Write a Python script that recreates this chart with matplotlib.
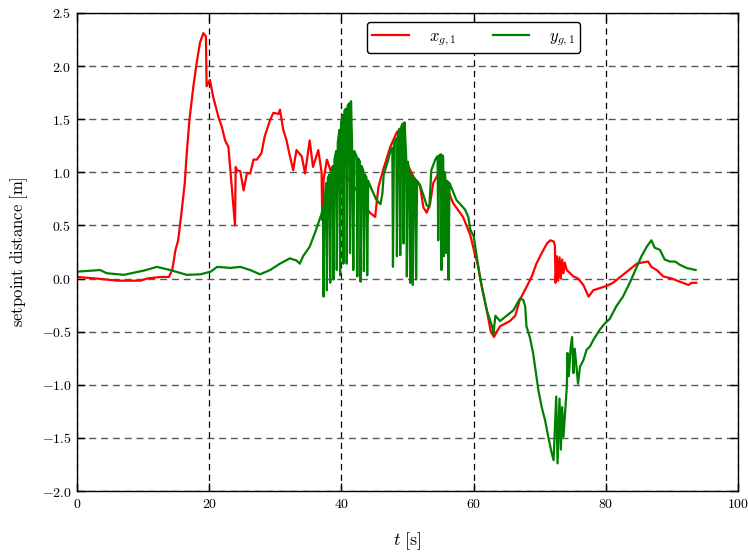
import matplotlib
matplotlib.use('Agg')
import matplotlib.pyplot as plt
from matplotlib.ticker import FuncFormatter, MultipleLocator

plt.rcParams['mathtext.fontset'] = 'cm'

# x_{g,1}
red_t = [0, 3.0, 6.1, 9.6, 10.6, 12.6, 13.9, 14.4, 14.9, 15.3, 15.8, 16.3,
         16.6, 17.0, 17.6, 18.1, 18.6, 19.1, 19.5, 19.6, 20.1, 20.6, 21.4,
         21.9, 22.4, 22.9, 23.9, 24.0, 24.2, 24.7, 25.2, 25.7, 26.2, 26.7,
         27.2, 27.9, 28.4, 29.2, 29.7, 30.5, 30.7, 31.2, 31.7, 32.0, 32.7,
         33.2, 34.0, 34.5, 35.2, 35.7, 36.5, 37.0, 37.1, 37.3, 37.8, 38.5,
         40.8, 42.3, 43.8, 44.3, 45.1, 45.6, 46.3, 47.4, 48.4, 48.9, 49.4,
         50.9, 51.9, 52.4, 52.9, 53.4, 53.9, 54.7, 55.9, 56.9, 58.4, 59.5,
         60.0, 60.7, 61.3, 62.0, 62.6, 63.1, 63.5, 64.0, 65.5, 66.3, 67.0,
         68.0, 68.8, 69.5, 70.3, 71.1, 71.6, 72.1, 72.3, 72.4, 72.6, 72.8,
         73.0, 73.2, 73.4, 73.6, 73.8, 74.1, 75.1, 75.8, 76.6, 77.4, 78.1,
         79.1, 80.1, 81.1, 81.9, 82.9, 83.9, 84.7, 85.4, 86.4, 86.9, 87.7,
         88.7, 90.0, 91.2, 92.5, 93.0, 93.7]
red_v = [0.015, 0.0, -0.02, -0.02, 0.0, 0.015, 0.015, 0.08, 0.27, 0.36, 0.62,
         0.9, 1.18, 1.49, 1.81, 2.03, 2.22, 2.31, 2.28, 1.81, 1.87, 1.71,
         1.52, 1.43, 1.3, 1.24, 0.5, 1.05, 1.02, 1.01, 0.83, 0.99, 0.99,
         1.12, 1.12, 1.18, 1.34, 1.49, 1.56, 1.55, 1.59, 1.4, 1.3, 1.21,
         1.02, 1.21, 1.15, 0.99, 1.3, 1.05, 1.21, 1.0, 0.55, 0.93, 1.12,
         0.99, 0.96, 0.83, 0.67, 0.62, 0.58, 0.86, 1.02, 1.24, 1.38, 1.4,
         1.15, 0.96, 0.87, 0.67, 0.62, 0.7, 0.9, 0.99, 0.87, 0.71, 0.58,
         0.41, 0.28, 0.11, -0.1, -0.3, -0.5, -0.55, -0.5, -0.45, -0.4,
         -0.35, -0.2, -0.08, 0.02, 0.14, 0.24, 0.33, 0.36, 0.35, 0.31,
         -0.04, 0.21, -0.02, 0.2, 0.0, 0.18, 0.05, 0.15, 0.08, 0.02, 0.0,
         -0.06, -0.17, -0.11, -0.09, -0.07, -0.04, 0.0, 0.05, 0.1, 0.14,
         0.15, 0.16, 0.11, 0.08, 0.02, 0.0, -0.03, -0.06, -0.04, -0.04]

# y_{g,1}
green_t = [0, 3.5, 4.5, 7.1, 10.1, 12.1, 14.1, 16.6, 18.7, 20.2, 21.2, 23.2,
           24.7, 26.2, 27.7, 29.2, 30.7, 32.2, 33.2, 33.7, 34.2, 35.2, 36.0,
           36.5, 37.0,
           37.2, 37.3, 37.45, 37.7, 37.8, 37.95, 38.2, 38.3, 38.45,
           38.7, 38.8, 38.95, 39.2, 39.3, 39.45, 39.7, 39.8, 39.95,
           40.2, 40.3, 40.45, 40.7, 40.8, 40.95, 41.2, 41.3, 41.45,
           41.6, 41.8, 41.95, 42.3, 42.4, 42.55, 42.8, 42.9, 43.05,
           43.3, 43.4, 43.55, 43.8, 43.9, 44.05,
           44.5, 45.3, 45.9, 46.2, 46.4, 47.0, 47.5,
           47.7, 47.8, 47.95, 48.3, 48.4, 48.55, 48.8, 48.9, 49.05,
           49.3, 49.4, 49.55, 49.8, 49.9, 50.05, 50.3, 50.4, 50.55,
           50.7, 50.8, 50.95, 51.2, 51.3, 51.45,
           51.9, 52.9, 53.3, 53.6, 54.2, 54.5,
           54.55, 54.65, 54.8, 55.05, 55.15, 55.3, 55.4, 55.5, 55.65,
           55.75, 55.85, 56.0, 56.1, 56.2, 56.35,
           57.4, 58.7, 59.2, 59.5, 60.0, 60.5, 61.0, 62.0, 62.8, 63.0,
           63.3, 64.0, 65.0, 66.0, 67.0, 67.5, 67.8, 68.0, 68.5, 69.0,
           69.5, 69.8, 70.3, 70.8, 71.3, 71.8, 72.1,
           72.5, 72.7, 73.0, 73.2, 73.4, 73.6, 73.8, 74.1, 74.2, 74.4,
           74.7, 74.9, 75.1, 75.3, 75.6, 75.8, 76.1, 76.6, 77.1, 77.6,
           78.1, 79.1, 79.9, 80.6, 81.6, 82.6, 83.7, 84.7, 85.4, 86.2,
           86.9, 87.4, 88.2, 88.9, 89.7, 90.5, 91.2, 92.2, 93.6]
green_v = [0.065, 0.08, 0.05, 0.035, 0.075, 0.11, 0.08, 0.035, 0.04, 0.065,
           0.11, 0.1, 0.11, 0.08, 0.04, 0.08, 0.14, 0.19, 0.17, 0.14, 0.21,
           0.3, 0.43, 0.52, 0.61,
           0.68, -0.17, 0.75, 0.9, -0.11, 0.95, 0.98, -0.04, 1.0,
           1.06, -0.01, 1.12, 1.2, 0.08, 1.28, 1.4, 0.03, 1.47,
           1.54, 0.14, 1.58, 1.6, 0.14, 1.63, 1.65, 0.24, 1.67,
           1.3, 0.08, 1.2, 1.15, 0.02, 1.13, 1.1, -0.03, 1.06,
           1.02, 0.07, 0.98, 0.95, 0.03, 0.92,
           0.85, 0.74, 0.7, 0.8, 0.98, 1.1, 1.22,
           1.23, 0.11, 1.27, 1.32, 0.21, 1.36, 1.41, 0.22, 1.43,
           1.46, 0.33, 1.47, 1.15, 0.02, 1.1, 1.0, -0.04, 0.98,
           0.96, -0.06, 0.95, 0.93, -0.01, 0.92,
           0.88, 0.69, 0.67, 1.02, 1.12, 1.15,
           1.15, 0.36, 1.16, 1.17, 0.08, 1.16, 1.14, 0.21, 1.0,
           0.93, 0.24, 0.92, 0.91, -0.01, 0.9,
           0.74, 0.65, 0.58, 0.46, 0.4, 0.2, 0.0, -0.3, -0.45, -0.52,
           -0.35, -0.4, -0.35, -0.3, -0.19, -0.2, -0.26, -0.45, -0.55, -0.7,
           -0.92, -1.05, -1.21, -1.33, -1.49, -1.64, -1.71,
           -1.11, -1.74, -1.13, -1.61, -1.21, -1.49, -1.3, -1.02, -0.7, -0.92,
           -0.64, -0.55, -0.89, -0.66, -0.86, -0.99, -0.83, -0.77, -0.67,
           -0.64, -0.58, -0.48, -0.42, -0.38, -0.26, -0.17, -0.03, 0.11,
           0.21, 0.3, 0.36, 0.29, 0.27, 0.18, 0.16, 0.16, 0.13, 0.1, 0.08]

fig = plt.figure(figsize=(7.48, 5.55), dpi=100)
ax = fig.add_axes([0.103, 0.1153, 0.8836, 0.8613])

ax.plot(red_t, red_v, color='#ff0000', lw=1.6, label=r'$x_{g,1}$')
ax.plot(green_t, green_v, color='#008000', lw=1.6, label=r'$y_{g,1}$')

ax.set_xlim(0, 100)
ax.set_ylim(-2.0, 2.5)
ax.xaxis.set_major_locator(MultipleLocator(20))
ax.yaxis.set_major_locator(MultipleLocator(0.5))
ax.xaxis.set_major_formatter(FuncFormatter(lambda v, p: r'$%d$' % round(v)))
ax.yaxis.set_major_formatter(FuncFormatter(lambda v, p: r'$%.1f$' % v))
ax.tick_params(direction='in', length=6, width=1, top=True, right=True,
               labelsize=10, pad=4)

ax.xaxis.grid(True, color='k', linestyle=(0, (5, 3.5)), lw=0.9)
ax.yaxis.grid(True, color='0.35', linestyle=(0, (5, 3.5)), lw=1.0)
for s in ax.spines.values():
    s.set_linewidth(1.0)

ax.set_xlabel(r'$t\ [\mathrm{s}]$', fontsize=13, labelpad=14)
ax.set_ylabel(r'$\mathrm{setpoint\ distance\ [m]}$', fontsize=12, labelpad=8)

leg = ax.legend(loc='upper center', bbox_to_anchor=(0.6, 0.981), ncol=2,
                fontsize=12, handlelength=2.2, columnspacing=2.2,
                fancybox=True, framealpha=1, edgecolor='k',
                borderpad=0.3, handletextpad=1.2, borderaxespad=0)
leg.get_frame().set_linewidth(1.0)

fig.savefig('out.png', dpi=100)
